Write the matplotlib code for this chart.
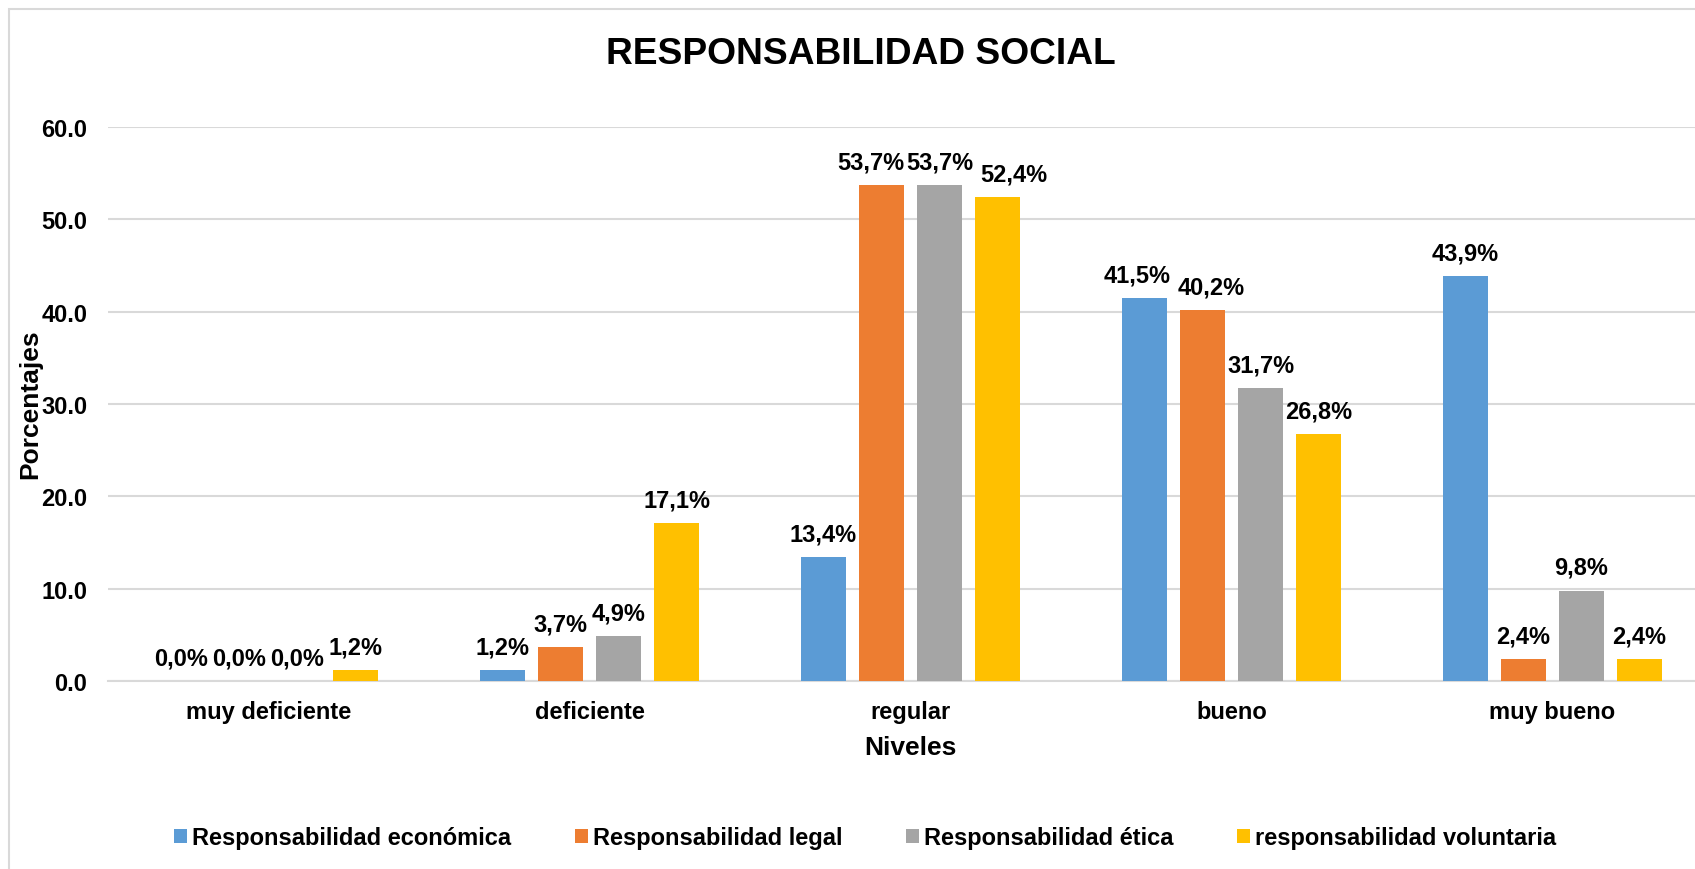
import matplotlib
import numpy as np

matplotlib.use("Agg")
import matplotlib.pyplot as plt  # noqa: E402
from matplotlib.patches import Rectangle  # noqa: E402

plt.rcParams["font.family"] = ["Liberation Sans", "DejaVu Sans"]
plt.rcParams["font.weight"] = "bold"

niveles = ["muy deficiente", "deficiente", "regular", "bueno", "muy bueno"]
series = ["Responsabilidad económica", "Responsabilidad legal",
          "Responsabilidad ética", "responsabilidad voluntaria"]
economica = [0.0, 1.2, 13.4, 41.5, 43.9]
legal = [0.0, 3.7, 53.7, 40.2, 2.4]
etica = [0.0, 4.9, 53.7, 31.7, 9.8]
voluntaria = [1.2, 17.1, 52.4, 26.8, 2.4]
colors = ["#5B9BD5", "#ED7D31", "#A5A5A5", "#FFC000"]

# label nudges (points) where Excel pushed crowded labels apart: (series, category) -> dx
nudge = {(1, 2): -8, (3, 2): 11.5, (0, 3): -5.5, (1, 3): 6.5}

W, H = 1695, 870
fig = plt.figure(figsize=(W / 100, H / 100), dpi=100)
# chart frame (cropped on right/bottom like the reference)
fig.patches.append(Rectangle((9 / W, -0.1), 1.2, 1 - 10 / H + 0.1, transform=fig.transFigure,
                             fill=False, edgecolor="#d9d9d9", lw=1.5))

ax = fig.add_axes([108 / W, 188 / H, 1605 / W, 554 / H])
x = np.arange(len(niveles))
bw, step = 0.140, 0.1807
for i, (vals, name) in enumerate(zip([economica, legal, etica, voluntaria], series)):
    pos = x + (i - 1.5) * step
    bars = ax.bar(pos, vals, bw, color=colors[i], label=name, zorder=3)
    for j, (b, v) in enumerate(zip(bars, vals)):
        ax.annotate(f"{v:.1f}%".replace(".", ","), (b.get_x() + b.get_width() / 2, v),
                    xytext=(nudge.get((i, j), 0), 8.3), textcoords="offset points",
                    ha="center", va="bottom", fontsize=17, fontweight="bold")

ax.set_xlim(-0.5, 4.5)
ax.set_ylim(0, 60)
ax.set_yticks(np.arange(0, 61, 10))
ax.set_yticklabels([f"{t:.1f}" for t in np.arange(0, 61, 10)])
ax.set_xticks(x)
ax.set_xticklabels(niveles)
ax.tick_params(length=0, labelsize=17)
ax.tick_params(axis="x", pad=14)
ax.tick_params(axis="y", pad=15)
ax.grid(axis="y", color="#d9d9d9", lw=1.5, zorder=0)
for s in ["top", "right", "left"]:
    ax.spines[s].set_visible(False)
ax.spines["bottom"].set_color("#d9d9d9")
ax.spines["bottom"].set_linewidth(1.5)
ax.set_xlabel("Niveles", fontsize=19, fontweight="bold", labelpad=8)

fig.text(30 / W, 1 - 404 / H, "Porcentajes", rotation=90, ha="center", va="center",
         fontsize=19, fontweight="bold")
fig.text(861 / W, 1 - 54 / H, "RESPONSABILIDAD SOCIAL", ha="center", va="center",
         fontsize=26.7, fontweight="bold")

fig.legend(loc="center", bbox_to_anchor=(865 / W, 1 - 839 / H), ncol=4, frameon=False,
           fontsize=17, handlelength=0.55, handleheight=0.55, handletextpad=0.2,
           columnspacing=2.7)

fig.savefig("out.png", dpi=100)
